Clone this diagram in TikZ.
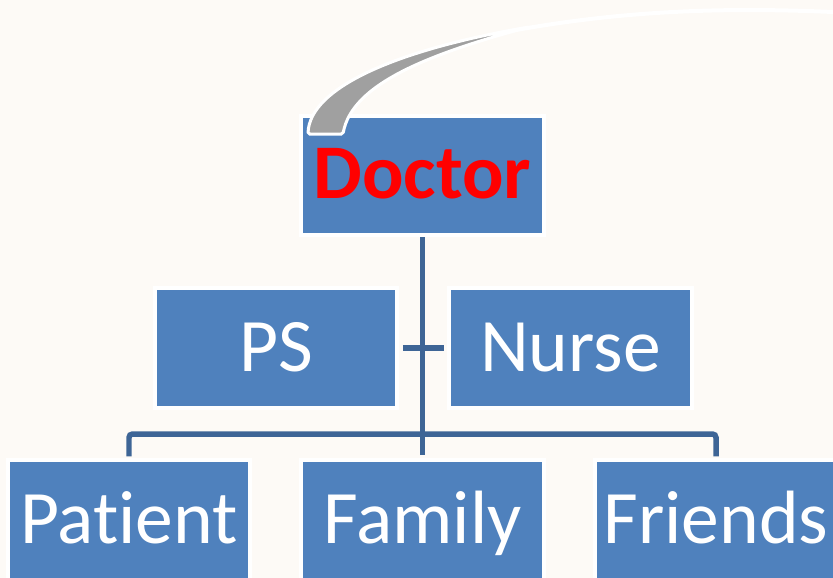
\documentclass[tikz,border=0pt]{standalone}
\usepackage{fontspec}
\setmainfont[Ligatures=NoCommon]{Carlito}
\usetikzlibrary{positioning}
\definecolor{bgcream}{RGB}{253,250,246}
\definecolor{boxblue}{RGB}{79,129,189}
\definecolor{linkblue}{RGB}{62,101,150}
\definecolor{tailgray}{RGB}{160,160,160}

\begin{document}
\begin{tikzpicture}[x=0.02cm,y=-0.02cm,
  box/.style={fill=boxblue,draw=white,line width=0.08cm,minimum width=4.86cm,minimum height=2.40cm,
    inner sep=0pt,text=white,font=\fontsize{43}{50}\selectfont,text height=0.94cm,text depth=0cm},
  link/.style={draw=linkblue,line width=0.11cm}]
 \useasboundingbox[fill=bgcream] (0,0) rectangle (833,578);
 % boxes
 \node[box,text=red,font=\bfseries\fontsize{44}{50}\selectfont] (doctor) at (422.5,175.5) {Doctor};
 \node[box] (ps) at (276,348) {PS};
 \node[box] (nurse) at (570.5,348) {Nurse};
 \node[box] (patient) at (129,520) {Pat\kern0pt ient};
 \node[box] (family) at (422.5,520) {Family};
 \node[box] (friends) at (716,520) {Friends};
 % tail over the top box
 \draw[fill=tailgray,draw=white,line width=0.06cm,rounded corners=1pt]
   (308,134) .. controls (310,88) and (395,50) .. (529,27)
   .. controls (425,55) and (352,85) .. (343,134) -- cycle;
 \draw[white,line width=0.08cm] (500,33) .. controls (630,8) and (740,8) .. (833,12);
 % connectors
 \coordinate (bar) at (422.5,434);
 \draw[link,shorten >=2pt] (doctor) -- (family);
 \draw[link,shorten <=2pt,shorten >=2pt] (ps) -- (nurse);
 \draw[link,rounded corners=2pt,shorten <=1pt,shorten >=1pt] (patient.north) |- (bar) -| (friends.north);
\end{tikzpicture}
\end{document}
